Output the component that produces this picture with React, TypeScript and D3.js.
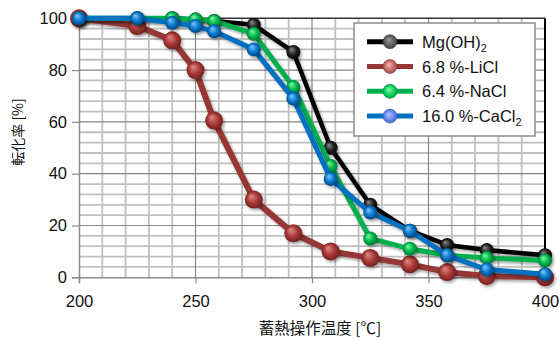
import React, { useEffect, useRef } from 'react';
import * as d3 from 'd3';

const temps = [200, 225, 240, 250, 258, 275, 292, 308, 325, 342, 358, 375, 400];
const mgOH2 = [100, 100, 100, 99.5, 99, 97.5, 87, 50, 28, 18, 12.5, 10.5, 8.5];
const liCl = [100, 97, 91.5, 80, 60.5, 30, 17, 10, 7.5, 5, 2, 0.5, 0];
const naCl = [100, 100, 100, 99.5, 99, 94, 73.5, 43, 15, 11, 8.5, 7.5, 6.5];
const caCl2 = [100, 100, 98.3, 97, 95, 88, 69, 38, 25, 18, 8.5, 3, 1.2];
const xTicks = [200, 250, 300, 350, 400];
const yTicks = [0, 20, 40, 60, 80, 100];

const seriesNames = ['Mg(OH)', '6.8 %-LiCl', '6.4 %-NaCl', '16.0 %-CaCl'];
const seriesSubs = ['2', '', '', '2'];

const App = () => {
  const ref = useRef<SVGSVGElement | null>(null);

  useEffect(() => {
    if (!ref.current) return;
    const svg = d3.select(ref.current);
    svg.selectAll('*').remove();

    const x = d3.scaleLinear().domain([200, 400]).range([79, 545]);
    const y = d3.scaleLinear().domain([0, 100]).range([277.3, 18.3]);

    const series = [
      { name: seriesNames[0], sub: seriesSubs[0], values: mgOH2, line: '#000000', hi: '#8a8a8a', base: '#222222', dark: '#000000', r: 7, lw: 4.5, legHi: '#9a9a9a', legBase: '#555555' },
      { name: seriesNames[1], sub: seriesSubs[1], values: liCl, line: '#953735', hi: '#e08a88', base: '#a83a37', dark: '#6a1c1a', r: 9, lw: 6, legHi: '#efb5b3', legBase: '#c0605d' },
      { name: seriesNames[2], sub: seriesSubs[2], values: naCl, line: '#00b050', hi: '#7dff9e', base: '#00b850', dark: '#006a2c', r: 7, lw: 5, legHi: '#8dffae', legBase: '#00c855' },
      { name: seriesNames[3], sub: seriesSubs[3], values: caCl2, line: '#0070c0', hi: '#7fc8ff', base: '#0a78cc', dark: '#003f78', r: 7, lw: 5, legHi: '#b0c4ff', legBase: '#5b7fe8' },
    ];

    const defs = svg.append('defs');
    const f = defs.append('filter').attr('id', 'shadow')
      .attr('x', '-50%').attr('y', '-50%').attr('width', '200%').attr('height', '200%');
    f.append('feDropShadow').attr('dx', 1.5).attr('dy', 2).attr('stdDeviation', 1.5)
      .attr('flood-color', '#000').attr('flood-opacity', 0.35);

    series.forEach((s, i) => {
      const g = defs.append('radialGradient').attr('id', `grad${i}`)
        .attr('cx', '50%').attr('cy', '50%').attr('r', '55%')
        .attr('fx', '35%').attr('fy', '30%');
      g.append('stop').attr('offset', '0%').attr('stop-color', s.hi);
      g.append('stop').attr('offset', '55%').attr('stop-color', s.base);
      g.append('stop').attr('offset', '100%').attr('stop-color', s.dark);
      const lg = defs.append('radialGradient').attr('id', `leg${i}`)
        .attr('cx', '50%').attr('cy', '50%').attr('r', '55%')
        .attr('fx', '40%').attr('fy', '35%');
      lg.append('stop').attr('offset', '0%').attr('stop-color', s.legHi);
      lg.append('stop').attr('offset', '70%').attr('stop-color', s.legBase);
      lg.append('stop').attr('offset', '100%').attr('stop-color', d3.color(s.legBase)!.darker(0.8).toString());
    });

    // Grid
    const grid = svg.append('g');
    const minorX = d3.range(210, 400, 10).filter(v => v % 50 !== 0);
    const minorY = d3.range(4, 100, 4).filter(v => v % 20 !== 0);
    grid.selectAll('.mx').data(minorX).enter().append('line')
      .attr('x1', d => x(d)).attr('x2', d => x(d)).attr('y1', y(100)).attr('y2', y(0))
      .attr('stroke', '#c0c0c0').attr('stroke-width', 1.8);
    grid.selectAll('.my').data(minorY).enter().append('line')
      .attr('x1', x(200)).attr('x2', x(400)).attr('y1', d => y(d)).attr('y2', d => y(d))
      .attr('stroke', '#c0c0c0').attr('stroke-width', 1.8);
    grid.selectAll('.MX').data(xTicks.slice(1, -1)).enter().append('line')
      .attr('x1', d => x(d)).attr('x2', d => x(d)).attr('y1', y(100)).attr('y2', y(0))
      .attr('stroke', '#858585').attr('stroke-width', 1.2);
    grid.selectAll('.MY').data(yTicks.slice(1, -1)).enter().append('line')
      .attr('x1', x(200)).attr('x2', x(400)).attr('y1', d => y(d)).attr('y2', d => y(d))
      .attr('stroke', '#858585').attr('stroke-width', 1.2);

    // Border: top and right black, left and bottom grey axes
    svg.append('line').attr('x1', x(200)).attr('x2', x(400)).attr('y1', y(100)).attr('y2', y(100))
      .attr('stroke', '#333').attr('stroke-width', 1.5);
    svg.append('line').attr('x1', x(400)).attr('x2', x(400)).attr('y1', y(100)).attr('y2', y(0))
      .attr('stroke', '#000').attr('stroke-width', 2);

    const axisY = svg.append('g').attr('transform', `translate(${x(200)},0)`)
      .call(d3.axisLeft(y).tickValues(yTicks).tickSize(7).tickPadding(5));
    const axisX = svg.append('g').attr('transform', `translate(0,${y(0)})`)
      .call(d3.axisBottom(x).tickValues(xTicks).tickSize(6).tickPadding(12));
    [axisY, axisX].forEach(a => {
      a.select('.domain').attr('stroke', '#8c8c8c').attr('stroke-width', 1.5);
      a.selectAll('.tick line').attr('stroke', '#8c8c8c').attr('stroke-width', 1.2);
      a.selectAll('.tick text').attr('fill', '#111')
        .style('font-family', '"Liberation Sans", Arial, sans-serif').style('font-size', '16.5px');
    });

    // Series
    const line = d3.line<number>().x((d, i) => x(temps[i])).y(d => y(d));
    series.forEach((s, i) => {
      const g = svg.append('g');
      g.append('path').datum(s.values).attr('d', line)
        .attr('fill', 'none').attr('stroke', s.line).attr('stroke-width', s.lw)
        .attr('stroke-linejoin', 'round').attr('filter', 'url(#shadow)');
      g.selectAll('circle').data(s.values).enter().append('circle')
        .attr('cx', (d, j) => x(temps[j])).attr('cy', d => y(d)).attr('r', s.r)
        .attr('fill', `url(#grad${i})`).attr('filter', 'url(#shadow)');
    });

    // Legend
    const leg = svg.append('g').attr('transform', 'translate(354,23)');
    leg.append('rect').attr('width', 181).attr('height', 113)
      .attr('fill', '#fff').attr('stroke', '#8c8c8c').attr('stroke-width', 1.5);
    series.forEach((s, i) => {
      const cy = 18.7 + i * 24.8;
      leg.append('line').attr('x1', 13).attr('x2', 59).attr('y1', cy).attr('y2', cy)
        .attr('stroke', s.line).attr('stroke-width', 5);
      leg.append('circle').attr('cx', 36).attr('cy', cy).attr('r', 7)
        .attr('fill', `url(#leg${i})`).attr('stroke', d3.color(s.legBase)!.darker(1).toString()).attr('stroke-width', 0.6);
      const t = leg.append('text').attr('x', 68).attr('y', cy + 6)
        .style('font-family', '"Liberation Sans", Arial, sans-serif').style('font-size', '16.5px')
        .attr('fill', '#111').text(s.name);
      if (s.sub) t.append('tspan').attr('dy', 4).style('font-size', '11px').text(s.sub);
    });

    // Axis titles
    svg.append('text').attr('transform', 'translate(23,132) rotate(-90)')
      .attr('text-anchor', 'middle')
      .style('font-family', '"Noto Sans CJK JP", sans-serif').style('font-size', '14px')
      .attr('fill', '#111').text('転化率 [%]');
    svg.append('text').attr('x', 320).attr('y', 334)
      .attr('text-anchor', 'middle')
      .style('font-family', '"Noto Sans CJK JP", sans-serif').style('font-size', '15.5px')
      .attr('fill', '#111').text('蓄熱操作温度 [℃]');
  }, []);

  return (
    <div style={{ position: 'absolute', left: 0, top: 0 }}>
      <svg ref={ref} width={559} height={338} style={{ display: 'block', background: '#fff' }} />
    </div>
  );
};

export default App;
